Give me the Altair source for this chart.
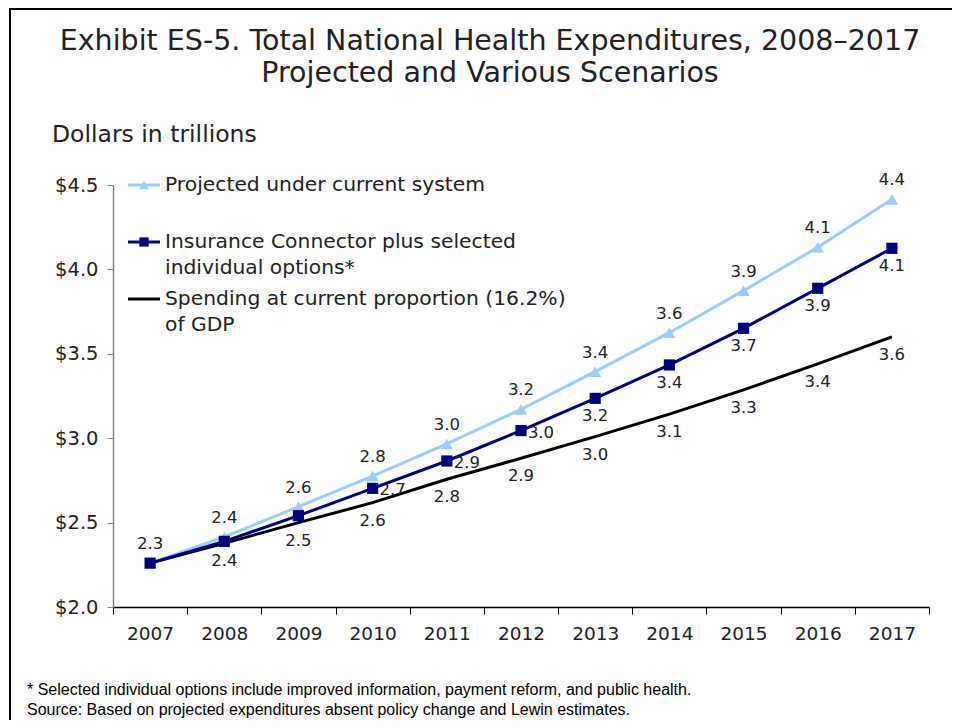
import altair as alt
import pandas as pd

# ---- data ----
years = [str(y) for y in range(2007, 2018)]
projected = [2.26, 2.415, 2.594, 2.776, 2.966, 3.171, 3.394, 3.625, 3.874, 4.131, 4.415]
connector = [2.26, 2.389, 2.541, 2.703, 2.865, 3.045, 3.236, 3.434, 3.651, 3.888, 4.125]
gdp_share = [2.26, 2.377, 2.50, 2.618, 2.757, 2.881, 3.009, 3.143, 3.286, 3.44, 3.60]
projected_labels = ["2.3", "2.4", "2.6", "2.8", "3.0", "3.2", "3.4", "3.6", "3.9", "4.1", "4.4"]
connector_labels = ["", "", "", "2.7", "2.9", "3.0", "3.2", "3.4", "3.7", "3.9", "4.1"]
gdp_labels = ["", "2.4", "2.5", "2.6", "2.8", "2.9", "3.0", "3.1", "3.3", "3.4", "3.6"]
y_ticks = [2.0, 2.5, 3.0, 3.5, 4.0, 4.5]

legend_lines = [
    ["Projected under current system"],
    ["Insurance Connector plus selected", "individual options*"],
    ["Spending at current proportion (16.2%)", "of GDP"],
]
title_lines = ["Exhibit ES-5. Total National Health Expenditures, 2008\u20132017",
               "Projected and Various Scenarios"]
y_title = "Dollars in trillions"
footnotes = ["* Selected individual options include improved information, payment reform, and public health.",
             "Source: Based on projected expenditures absent policy change and Lewin estimates."]

LIGHT = "#99CCFF"
NAVY = "#000080"
BLACK = "#000000"
TXT = "#222222"
FONT = "DejaVu Sans"

rows = []
for name, vals, labs in [("Projected", projected, projected_labels),
                         ("Connector", connector, connector_labels),
                         ("GDP", gdp_share, gdp_labels)]:
    for yr, v, lab in zip(years, vals, labs):
        rows.append({"series": name, "year": yr, "value": v, "label": lab})
df = pd.DataFrame(rows)

x_enc = alt.X("year:O", scale=alt.Scale(type="band", paddingInner=0, paddingOuter=0),
              axis=alt.Axis(title=None, labelAngle=0, tickBand="extent", tickSize=7,
                            domainColor="#000000", tickColor="#000000", domainWidth=1.5,
                            labelFont=FONT, labelFontSize=18.5, labelColor=TXT,
                            labelPadding=10, grid=False))
y_enc = alt.Y("value:Q", scale=alt.Scale(domain=[2.0, 4.5], nice=False, zero=False),
              axis=alt.Axis(values=y_ticks, format="$.1f", grid=False,
                            domainColor="#808080", tickColor="#808080", tickSize=6,
                            domainWidth=1.5, labelFont=FONT, labelFontSize=19.5,
                            labelColor=TXT, labelPadding=9, title=None))

base = alt.Chart(df).encode(x=x_enc, y=y_enc)

gdp_line = base.transform_filter(alt.datum.series == "GDP").mark_line(
    color=BLACK, strokeWidth=3)
proj_line = base.transform_filter(alt.datum.series == "Projected").mark_line(
    color=LIGHT, strokeWidth=3,
    point=alt.OverlayMarkDef(shape="triangle-up", size=150, filled=True, color=LIGHT, opacity=1))
conn_line = base.transform_filter(alt.datum.series == "Connector").mark_line(
    color=NAVY, strokeWidth=3,
    point=alt.OverlayMarkDef(shape="square", size=125, filled=True, color=NAVY, opacity=1))

lab_kw = dict(font=FONT, fontSize=16.5, color=TXT, baseline="middle")
proj_lab = base.transform_filter(alt.datum.series == "Projected").mark_text(
    dy=-19, **lab_kw).encode(text="label:N")
conn_lab_right = base.transform_filter(
    (alt.datum.series == "Connector") & (alt.datum.label != "") &
    (alt.datum.year <= "2012")).mark_text(dx=20, dy=2, **lab_kw).encode(text="label:N")
conn_lab_below = base.transform_filter(
    (alt.datum.series == "Connector") & (alt.datum.year >= "2013")).mark_text(
    dy=18, **lab_kw).encode(text="label:N")
gdp_lab = base.transform_filter(
    (alt.datum.series == "GDP") & (alt.datum.label != "")).mark_text(
    dy=18, **lab_kw).encode(text="label:N")

# ---- headings (title, y-axis caption) ----
one = pd.DataFrame({"k": [0]})
head_layers = []
for j, ln in enumerate(title_lines):
    head_layers.append(alt.Chart(pd.DataFrame({"t": [ln]})).mark_text(
        font=FONT, fontSize=28.5, color=TXT, align="center", baseline="middle").encode(
        x=alt.value(377), y=alt.value(-144 + 32 * j), text="t:N"))
head_layers.append(alt.Chart(pd.DataFrame({"t": [y_title]})).mark_text(
    font=FONT, fontSize=23.5, color=TXT, align="left", baseline="middle").encode(
    x=alt.value(-61), y=alt.value(-50), text="t:N"))

# ---- manual legend ----
legend_layers = []
legend_style = [(LIGHT, "triangle-up", 95), (NAVY, "square", 85), (BLACK, None, 0)]
for i, ((col, shp, sz), lines) in enumerate(zip(legend_style, legend_lines)):
    yy = 57 * i
    legend_layers.append(alt.Chart(one).mark_rule(color=col, strokeWidth=3).encode(
        x=alt.value(15), x2=alt.value(47), y=alt.value(yy)))
    if shp:
        legend_layers.append(alt.Chart(one).mark_point(
            shape=shp, size=sz, filled=True, color=col, opacity=1).encode(
            x=alt.value(31), y=alt.value(yy)))
    for j, ln in enumerate(lines):
        legend_layers.append(alt.Chart(pd.DataFrame({"t": [ln]})).mark_text(
            font=FONT, fontSize=20.3, color=TXT, align="left", baseline="middle").encode(
            x=alt.value(52), y=alt.value(yy + 26 * j), text="t:N"))

# ---- footnotes ----
foot_layers = []
for j, ln in enumerate(footnotes):
    foot_layers.append(alt.Chart(pd.DataFrame({"t": [ln]})).mark_text(
        font="Liberation Sans", fontSize=16, color="#000000", align="left",
        baseline="middle").encode(x=alt.value(-86), y=alt.value(505 + 20 * j), text="t:N"))

# ---- frame (top and left edges, as in the reference) ----
frame = [
    alt.Chart(one).mark_rule(color="#000000", strokeWidth=2).encode(
        x=alt.value(-103), x2=alt.value(839), y=alt.value(-176)),
    alt.Chart(one).mark_rule(color="#000000", strokeWidth=2).encode(
        x=alt.value(-103), y=alt.value(-177), y2=alt.value(535)),
]

chart = alt.layer(
    gdp_line, proj_line, conn_line, proj_lab, conn_lab_right, conn_lab_below, gdp_lab,
    *head_layers, *legend_layers, *foot_layers, *frame
).properties(
    width=816, height=422,
    padding={"left": 105, "top": 177, "right": 23, "bottom": 113},
    autosize=alt.AutoSizeParams(type="none"),
).configure(background="white").configure_view(stroke=None)

chart.save("out.html", embed_options={"renderer": "svg", "actions": False})
